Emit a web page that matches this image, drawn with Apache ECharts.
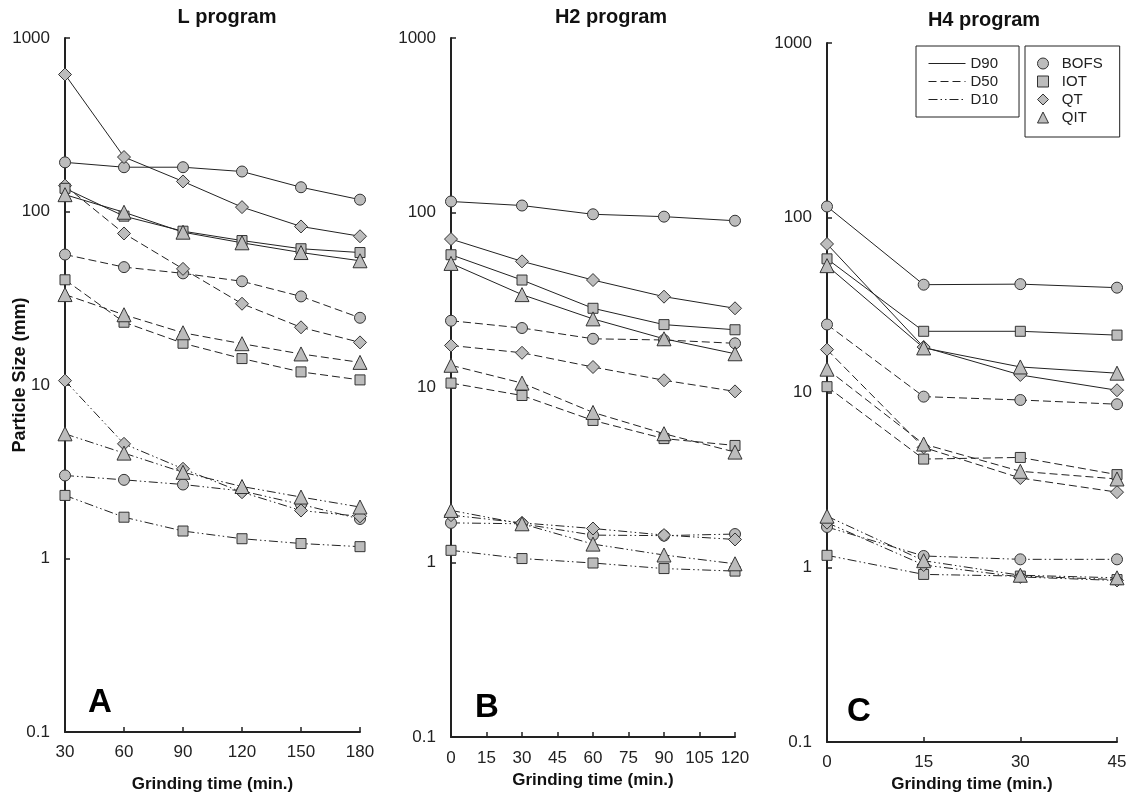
<!DOCTYPE html>
<html><head><meta charset="utf-8">
<script src="https://cdn.jsdelivr.net/npm/echarts@6/dist/echarts.min.js"></script>
<style>html,body{margin:0;padding:0;background:#fff}#c{width:1131px;height:798px}</style>
</head><body><div id="c"></div>
<script>
// ---- data ----
const timesL = [30, 60, 90, 120, 150, 180];
const timesH2 = [0, 30, 60, 90, 120];
const timesH4 = [0, 15, 30, 45];
const yTicks = [0.1, 1, 10, 100, 1000];

const L_D90_BOFS = [192, 180, 180, 170, 138, 117];
const L_D90_IOT  = [136, 94, 77, 68, 61, 58];
const L_D90_QT   = [616, 206, 149, 106, 82, 72];
const L_D90_QIT  = [125, 99, 76, 66, 58, 52];
const L_D50_BOFS = [56.5, 47.8, 44, 39.6, 32.4, 24.4];
const L_D50_IOT  = [40.4, 23, 17.4, 14.2, 11.9, 10.7];
const L_D50_QT   = [141, 74.7, 46.7, 29.4, 21.5, 17.6];
const L_D50_QIT  = [33.2, 25.4, 20, 17.3, 15.1, 13.5];
const L_D10_BOFS = [3.01, 2.84, 2.67, 2.45, 2.05, 1.69];
const L_D10_IOT  = [2.31, 1.73, 1.44, 1.30, 1.22, 1.17];
const L_D10_QT   = [10.6, 4.58, 3.29, 2.41, 1.89, 1.75];
const L_D10_QIT  = [5.23, 4.05, 3.14, 2.60, 2.26, 1.98];

const H2_D90_BOFS = [116, 110, 98, 95, 90];
const H2_D90_IOT  = [57.5, 41.2, 28.4, 22.9, 21.4];
const H2_D90_QT   = [70.7, 52.7, 41.2, 33.1, 28.4];
const H2_D90_QIT  = [51.3, 34, 24.7, 19, 15.6];
const H2_D50_BOFS = [24.1, 21.9, 19, 18.7, 17.9];
const H2_D50_IOT  = [10.6, 9.0, 6.48, 5.1, 4.66];
const H2_D50_QT   = [17.4, 15.8, 13.1, 11, 9.5];
const H2_D50_QIT  = [13.4, 10.6, 7.2, 5.44, 4.27];
const H2_D10_BOFS = [1.68, 1.66, 1.43, 1.42, 1.45];
const H2_D10_IOT  = [1.17, 1.05, 0.99, 0.92, 0.89];
const H2_D10_QT   = [1.86, 1.68, 1.56, 1.43, 1.35];
const H2_D10_QIT  = [1.98, 1.66, 1.27, 1.10, 0.98];

const H4_D90_BOFS = [116, 41.4, 41.7, 39.8];
const H4_D90_IOT  = [58.2, 22.4, 22.4, 21.3];
const H4_D90_QT   = [70.8, 18.2, 12.6, 10.3];
const H4_D90_QIT  = [53.2, 18, 14, 12.9];
const H4_D50_BOFS = [24.5, 9.47, 9.06, 8.57];
const H4_D50_IOT  = [10.8, 4.16, 4.25, 3.39];
const H4_D50_QT   = [17.6, 4.85, 3.24, 2.69];
const H4_D50_QIT  = [13.6, 5.07, 3.54, 3.2];
const H4_D10_BOFS = [1.70, 1.16, 1.11, 1.11];
const H4_D10_IOT  = [1.17, 0.91, 0.89, 0.85];
const H4_D10_QT   = [1.80, 1.03, 0.88, 0.84];
const H4_D10_QIT  = [1.96, 1.09, 0.90, 0.87];

const materials = ['BOFS', 'IOT', 'QT', 'QIT'];
const sizeNames = ['D90', 'D50', 'D10'];
const panelTitles = ['L program', 'H2 program', 'H4 program'];
const panelLetters = ['A', 'B', 'C'];
const xAxisTitle = 'Grinding time (min.)';
const yAxisTitle = 'Particle Size (mm)';

// ---- styling ----
const FONT = 'Liberation Sans, Arial, Helvetica, sans-serif';
const symbols = ['circle', 'rect', 'diamond', 'triangle'];
const symSizes = [11, 10, 13, 14];
const dashes = ['solid', [8, 4], [9, 3, 1.5, 3, 1.5, 3]];
const FILL = '#bcbcbc';
const INK = '#222';

const panels = [
  { times: timesL, min: 30, max: 180, interval: 30,
    grid: { left: 65, top: 38, width: 295, height: 695 }, labelMargin: 12, nameGap: 44,
    data: [[L_D90_BOFS, L_D90_IOT, L_D90_QT, L_D90_QIT],
           [L_D50_BOFS, L_D50_IOT, L_D50_QT, L_D50_QIT],
           [L_D10_BOFS, L_D10_IOT, L_D10_QT, L_D10_QIT]] },
  { times: timesH2, min: 0, max: 120, interval: 15,
    grid: { left: 451, top: 38, width: 284, height: 699 }, labelMargin: 13, nameGap: 35,
    data: [[H2_D90_BOFS, H2_D90_IOT, H2_D90_QT, H2_D90_QIT],
           [H2_D50_BOFS, H2_D50_IOT, H2_D50_QT, H2_D50_QIT],
           [H2_D10_BOFS, H2_D10_IOT, H2_D10_QT, H2_D10_QIT]] },
  { times: timesH4, min: 0, max: 45, interval: 15,
    grid: { left: 827, top: 43, width: 290, height: 700 }, labelMargin: 12, nameGap: 34,
    data: [[H4_D90_BOFS, H4_D90_IOT, H4_D90_QT, H4_D90_QIT],
           [H4_D50_BOFS, H4_D50_IOT, H4_D50_QT, H4_D50_QIT],
           [H4_D10_BOFS, H4_D10_IOT, H4_D10_QT, H4_D10_QIT]] }
];

const grids = [], xAxes = [], yAxes = [], series = [];
panels.forEach((p, pi) => {
  grids.push(Object.assign({ containLabel: false }, p.grid));
  xAxes.push({
    type: 'value', gridIndex: pi, min: p.min, max: p.max, interval: p.interval,
    splitLine: { show: false },
    axisLine: { show: true, onZero: false, lineStyle: { color: INK, width: 2 } },
    axisTick: { show: true, inside: true, length: 5, lineStyle: { color: INK, width: 1.5 } },
    axisLabel: { margin: p.labelMargin, fontSize: 17, color: INK, fontFamily: FONT },
    name: xAxisTitle, nameLocation: 'middle', nameGap: p.nameGap,
    nameTextStyle: { fontSize: 17, fontWeight: 'bold', color: '#111', fontFamily: FONT }
  });
  yAxes.push({
    type: 'log', logBase: 10, gridIndex: pi, min: yTicks[0], max: yTicks[yTicks.length - 1],
    splitLine: { show: false }, minorTick: { show: false },
    axisLine: { show: true, onZero: false, lineStyle: { color: INK, width: 2 } },
    axisTick: { show: true, inside: true, length: 5, lineStyle: { color: INK, width: 1.5 } },
    axisLabel: { margin: 15, fontSize: 17, color: INK, fontFamily: FONT,
                 formatter: v => String(+v.toPrecision(3)) }
  });
  // draw D10 first, D90 last
  [2, 1, 0].forEach(si => {
    materials.forEach((m, mi) => {
      const vals = p.data[si][mi];
      series.push({
        type: 'line', name: m, xAxisIndex: pi, yAxisIndex: pi,
        data: p.times.map((t, i) => [t, vals[i]]),
        symbol: symbols[mi], symbolSize: symSizes[mi], showSymbol: true, showAllSymbol: true,
        lineStyle: { color: INK, width: 1, type: dashes[si] },
        itemStyle: { color: FILL, borderColor: '#333', borderWidth: 1 },
        emphasis: { disabled: true }, silent: true, animation: false
      });
    });
  });
});
// legend-only series for the size-fraction line styles
sizeNames.forEach((n, si) => {
  series.push({
    type: 'line', name: n, xAxisIndex: 2, yAxisIndex: 2, data: [], symbol: 'none',
    lineStyle: { color: INK, width: 1, type: dashes[si] }, animation: false
  });
});

const legendText = { fontSize: 15, color: INK, fontFamily: FONT };
const option = {
  backgroundColor: '#fff',
  animation: false,
  grid: grids, xAxis: xAxes, yAxis: yAxes, series: series,
  legend: [
    { orient: 'vertical', left: 916, top: 46, padding: [10, 21, 10, 12],
      itemWidth: 37, itemHeight: 14, itemGap: 3, selectedMode: false,
      borderColor: INK, borderWidth: 1, textStyle: legendText,
      data: sizeNames.map((n, si) => ({ name: n, itemStyle: { opacity: 0 },
        lineStyle: { color: INK, width: 1, type: dashes[si], opacity: 1 } })) },
    { orient: 'vertical', left: 1025, top: 46, padding: [10, 17, 12, 12],
      itemWidth: 11, itemHeight: 11, itemGap: 3, selectedMode: false,
      borderColor: INK, borderWidth: 1, textStyle: legendText,
      formatter: n => '  ' + n,
      itemStyle: { color: FILL, borderColor: '#333', borderWidth: 1 },
      data: materials.map((n, mi) => ({ name: n, icon: symbols[mi] })) }
  ],
  graphic: [
    { type: 'text', x: 227, y: 17, style: { text: panelTitles[0], align: 'center', verticalAlign: 'middle', font: 'bold 20px ' + FONT, fill: '#111' } },
    { type: 'text', x: 611, y: 17, style: { text: panelTitles[1], align: 'center', verticalAlign: 'middle', font: 'bold 20px ' + FONT, fill: '#111' } },
    { type: 'text', x: 984, y: 20, style: { text: panelTitles[2], align: 'center', verticalAlign: 'middle', font: 'bold 20px ' + FONT, fill: '#111' } },
    { type: 'text', x: 100, y: 703, style: { text: panelLetters[0], align: 'center', verticalAlign: 'middle', font: 'bold 33px ' + FONT, fill: '#000' } },
    { type: 'text', x: 487, y: 708, style: { text: panelLetters[1], align: 'center', verticalAlign: 'middle', font: 'bold 33px ' + FONT, fill: '#000' } },
    { type: 'text', x: 859, y: 712, style: { text: panelLetters[2], align: 'center', verticalAlign: 'middle', font: 'bold 33px ' + FONT, fill: '#000' } },
    { type: 'text', x: 20, y: 375, rotation: Math.PI / 2, style: { text: yAxisTitle, align: 'center', verticalAlign: 'middle', font: 'bold 18px ' + FONT, fill: '#111' } }
  ]
};
const chart = echarts.init(document.getElementById('c'), null, { renderer: 'canvas' });
chart.setOption(option);
</script></body></html>
